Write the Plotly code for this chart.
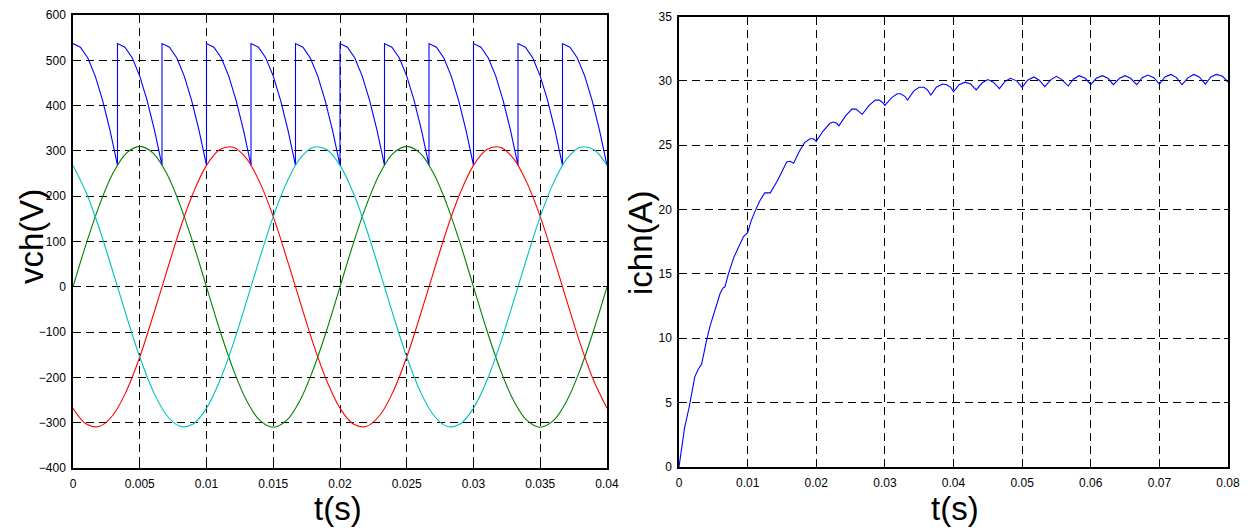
import plotly.graph_objects as go

# ---------------- data: left panel (phase voltages and rectified voltage) ----------------
t_v = [0.000, 0.001, 0.002, 0.003, 0.004, 0.005, 0.006, 0.007, 0.008, 0.009,
       0.010, 0.011, 0.012, 0.013, 0.014, 0.015, 0.016, 0.017, 0.018, 0.019,
       0.020, 0.021, 0.022, 0.023, 0.024, 0.025, 0.026, 0.027, 0.028, 0.029,
       0.030, 0.031, 0.032, 0.033, 0.034, 0.035, 0.036, 0.037, 0.038, 0.039,
       0.040]
v_green = [0, 96, 182, 251, 295, 310, 295, 251, 182, 96,
           0, -96, -182, -251, -295, -310, -295, -251, -182, -96,
           0, 96, 182, 251, 295, 310, 295, 251, 182, 96,
           0, -96, -182, -251, -295, -310, -295, -251, -182, -96,
           0]
v_red = [-268, -303, -308, -283, -230, -155, -64, 32, 126, 207,
         268, 303, 308, 283, 230, 155, 64, -32, -126, -207,
         -268, -303, -308, -283, -230, -155, -64, 32, 126, 207,
         268, 303, 308, 283, 230, 155, 64, -32, -126, -207,
         -268]
v_cyan = [268, 207, 126, 32, -64, -155, -230, -283, -308, -303,
          -268, -207, -126, -32, 64, 155, 230, 283, 308, 303,
          268, 207, 126, 32, -64, -155, -230, -283, -308, -303,
          -268, -207, -126, -32, 64, 155, 230, 283, 308, 303,
          268]

# rectified output voltage: each commutation interval has the same shape
blue_seg_start = [0.0, 0.003333, 0.006667, 0.01, 0.013333, 0.016667,
                  0.02, 0.023333, 0.026667, 0.03, 0.033333, 0.036667]
blue_seg_dt = [0.0, 0.000556, 0.001111, 0.001667, 0.002222, 0.002778, 0.003333]
blue_seg_val = [537, 529, 505, 465, 411, 345, 268]

# ---------------- data: right panel (load current) ----------------
t_i = [0, 0.0004, 0.0008, 0.0015, 0.0023, 0.0028, 0.0033,
       0.004, 0.0045, 0.006, 0.0064, 0.0067,
       0.0072, 0.008, 0.0087, 0.0094, 0.01,
       0.0105, 0.0111, 0.0118, 0.0125, 0.0133,
       0.0143, 0.015, 0.0157, 0.0162, 0.0167,
       0.0175, 0.0183, 0.0191, 0.0196, 0.02,
       0.021, 0.022, 0.0225, 0.023, 0.0233,
       0.0243, 0.0252, 0.0258, 0.0263, 0.0267,
       0.0277, 0.0286, 0.0292, 0.0297, 0.03,
       0.031, 0.0318, 0.0323, 0.0329, 0.0333,
       0.0342, 0.035, 0.0357, 0.0362, 0.0367,
       0.0375, 0.0384, 0.039, 0.0396, 0.04,
       0.0408, 0.0417, 0.0425, 0.0433,
       0.0442, 0.045, 0.0458, 0.0467,
       0.0475, 0.0483, 0.0492, 0.05,
       0.0508, 0.0517, 0.0525, 0.0533,
       0.0542, 0.055, 0.0558, 0.0567,
       0.0575, 0.0583, 0.0592, 0.06,
       0.0608, 0.0617, 0.0625, 0.0633,
       0.0642, 0.065, 0.0658, 0.0667,
       0.0675, 0.0683, 0.0692, 0.07,
       0.0708, 0.0717, 0.0725, 0.0733,
       0.0742, 0.075, 0.0758, 0.0767,
       0.0775, 0.0783, 0.0792, 0.08]
i_load = [0, 1.6, 3.0, 4.7, 7.0, 7.6, 8.0,
          9.8, 10.9, 13.5, 13.9, 14.0,
          15.0, 16.3, 17.1, 17.9, 18.2,
          19.1, 19.9, 20.7, 21.3, 21.3,
          22.2, 23.0, 23.7, 23.75, 23.6,
          24.5, 25.2, 25.5, 25.5, 25.3,
          26.1, 26.7, 26.8, 26.7, 26.5,
          27.3, 27.8, 27.8, 27.6, 27.4,
          28.1, 28.5, 28.5, 28.3, 28.1,
          28.7, 29.0, 29.0, 28.8, 28.5,
          29.2, 29.5, 29.5, 29.3, 28.9,
          29.5, 29.75, 29.7, 29.5, 29.15,
          29.7, 29.9, 29.75, 29.3,
          29.85, 30.1, 29.9, 29.4,
          29.95, 30.2, 30.0, 29.5,
          30.05, 30.3, 30.05, 29.55,
          30.1, 30.35, 30.1, 29.6,
          30.15, 30.4, 30.2, 29.7,
          30.2, 30.4, 30.2, 29.7,
          30.2, 30.4, 30.2, 29.7,
          30.25, 30.45, 30.25, 29.75,
          30.3, 30.5, 30.25, 29.7,
          30.25, 30.5, 30.3, 29.75,
          30.3, 30.5, 30.35, 29.9]

# ---------------- ticks ----------------
x1_ticks = [0, 0.005, 0.01, 0.015, 0.02, 0.025, 0.03, 0.035, 0.04]
x1_labels = ["0", "0.005", "0.01", "0.015", "0.02", "0.025", "0.03", "0.035", "0.04"]
y1_ticks = [-400, -300, -200, -100, 0, 100, 200, 300, 400, 500, 600]
x2_ticks = [0, 0.01, 0.02, 0.03, 0.04, 0.05, 0.06, 0.07, 0.08]
x2_labels = ["0", "0.01", "0.02", "0.03", "0.04", "0.05", "0.06", "0.07", "0.08"]
y2_ticks = [0, 5, 10, 15, 20, 25, 30, 35]

# build the rectified waveform from its repeated segment shape
blue_t, blue_v = [], []
for s in blue_seg_start:
    for dt, v in zip(blue_seg_dt, blue_seg_val):
        blue_t.append(s + dt)
        blue_v.append(v)

W, H = 1253, 530
FONT = "Arial, 'Liberation Sans', Helvetica, sans-serif"

fig = go.Figure()
fig.add_trace(go.Scatter(x=blue_t, y=blue_v, mode="lines",
                         line=dict(color="#0000FF", width=1.1), xaxis="x", yaxis="y"))
fig.add_trace(go.Scatter(x=t_v, y=v_green, mode="lines",
                         line=dict(color="#008000", width=1.1, shape="spline"), xaxis="x", yaxis="y"))
fig.add_trace(go.Scatter(x=t_v, y=v_red, mode="lines",
                         line=dict(color="#FF0000", width=1.1, shape="spline"), xaxis="x", yaxis="y"))
fig.add_trace(go.Scatter(x=t_v, y=v_cyan, mode="lines",
                         line=dict(color="#00BFBF", width=1.1, shape="spline"), xaxis="x", yaxis="y"))
fig.add_trace(go.Scatter(x=t_i, y=i_load, mode="lines",
                         line=dict(color="#0000FF", width=1.1), xaxis="x2", yaxis="y2"))

def px_x(p):
    return p / W

def px_y(p):
    return 1 - p / H

axis_common = dict(
    showline=True, linecolor="black", linewidth=1.5, mirror="ticks",
    ticks="inside", ticklen=4, tickwidth=1, tickcolor="black",
    showgrid=True, gridcolor="#000000", gridwidth=1, griddash="8px,5px",
    zeroline=False, tickfont=dict(family=FONT, size=12, color="black"),
    automargin=False, fixedrange=True,
)

fig.update_layout(
    width=W, height=H,
    margin=dict(l=0, r=0, t=0, b=0),
    paper_bgcolor="white", plot_bgcolor="white",
    showlegend=False,
    xaxis=dict(axis_common, domain=[px_x(73), px_x(607)], range=[0, 0.04],
               tickvals=x1_ticks, ticktext=x1_labels, anchor="y", ticklabelstandoff=4),
    yaxis=dict(axis_common, domain=[px_y(468), px_y(15)], range=[-400, 600],
               tickvals=y1_ticks, anchor="x", ticklabelstandoff=3),
    xaxis2=dict(axis_common, domain=[px_x(679), px_x(1228)], range=[0, 0.08],
                tickvals=x2_ticks, ticktext=x2_labels, anchor="y2", ticklabelstandoff=4),
    yaxis2=dict(axis_common, domain=[px_y(467), px_y(16.5)], range=[0, 35],
                tickvals=y2_ticks, anchor="x2", ticklabelstandoff=3),
)

title_font = dict(family=FONT, size=33, color="black")
fig.add_annotation(text="vch(V)", x=px_x(31), y=px_y(237), xref="paper", yref="paper",
                   textangle=-90, showarrow=False, font=title_font,
                   xanchor="center", yanchor="middle")
fig.add_annotation(text="t(s)", x=px_x(338), y=px_y(508), xref="paper", yref="paper",
                   showarrow=False, font=title_font, xanchor="center", yanchor="middle")
fig.add_annotation(text="ichn(A)", x=px_x(640), y=px_y(243), xref="paper", yref="paper",
                   textangle=-90, showarrow=False, font=title_font,
                   xanchor="center", yanchor="middle")
fig.add_annotation(text="t(s)", x=px_x(955), y=px_y(508), xref="paper", yref="paper",
                   showarrow=False, font=title_font, xanchor="center", yanchor="middle")

fig.write_html("out.html")
